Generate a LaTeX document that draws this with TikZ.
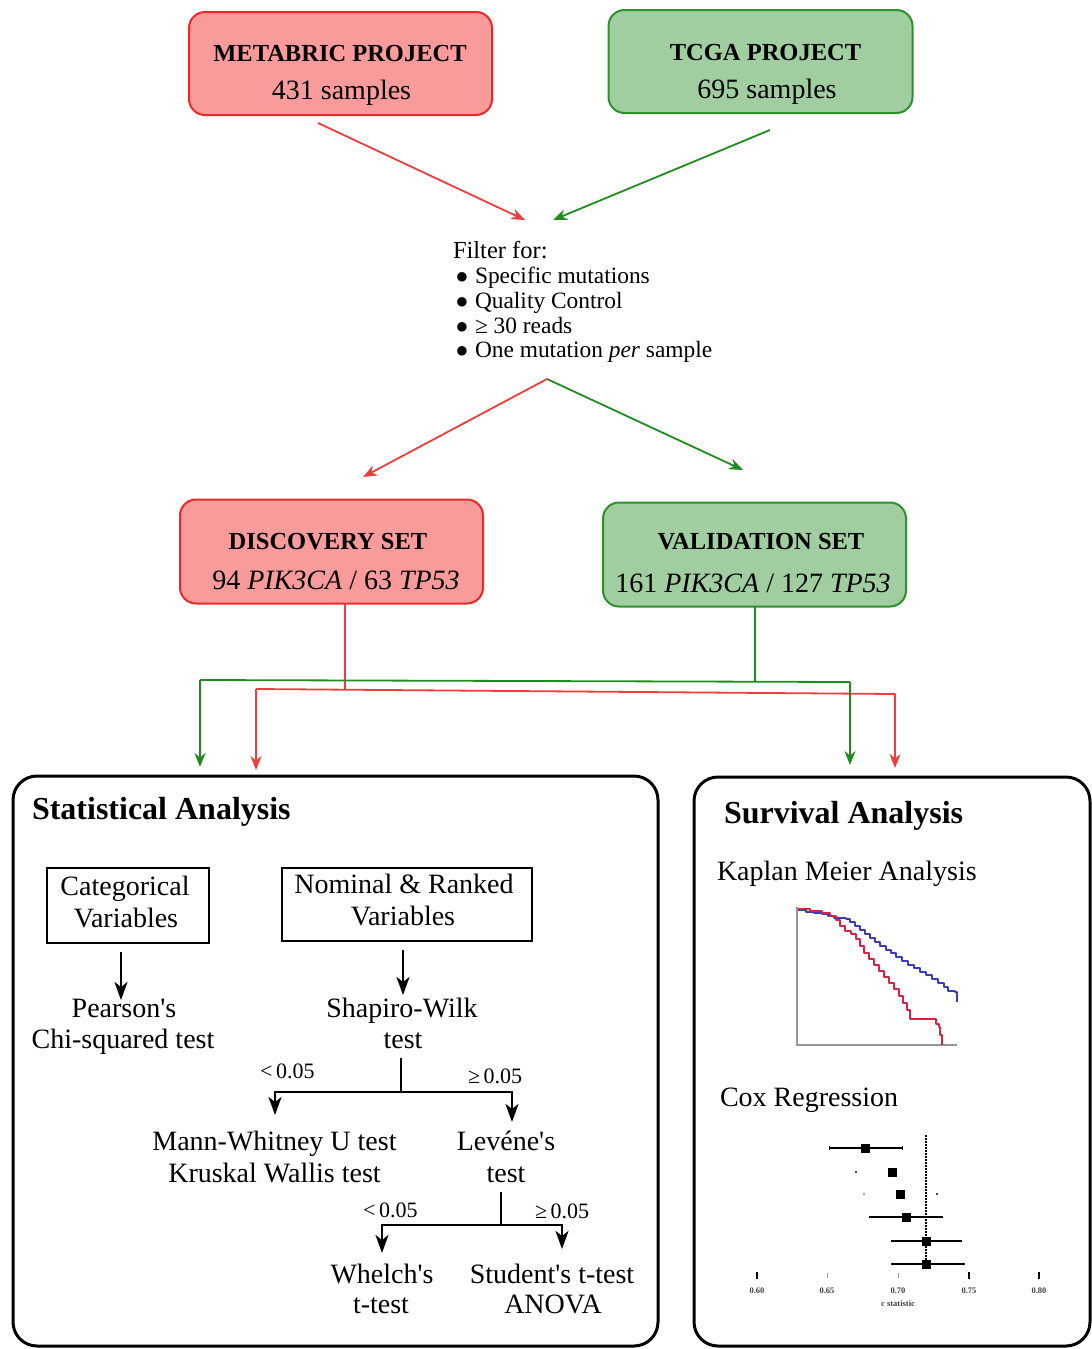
\documentclass[tikz,border=0pt]{standalone}
\usepackage{fontspec}
\setmainfont{Liberation Serif}
\newfontfamily\plainserif{Liberation Serif}
\newcommand\aps{{\plainserif\char"0027\relax}}
\newcommand\bigbul{\makebox[8pt][c]{\fontsize{22}{13}\selectfont ●}\hspace{9pt}}
\usetikzlibrary{arrows.meta,calc}
\definecolor{boxred}{RGB}{250,155,155}
\definecolor{edgered}{RGB}{238,40,40}
\definecolor{boxgreen}{RGB}{160,206,160}
\definecolor{edgegreen}{RGB}{45,145,45}
\definecolor{arrred}{RGB}{240,60,60}
\definecolor{arrgreen}{RGB}{30,140,30}
\definecolor{kmblue}{RGB}{60,60,185}
\definecolor{kmred}{RGB}{215,35,65}
\definecolor{axgray}{RGB}{150,150,150}
\begin{document}
\begin{tikzpicture}[x=1pt,y=-1pt,
  every node/.style={inner sep=0pt,outer sep=0pt},
  redbox/.style={draw=edgered,fill=boxred,line width=2pt,rounded corners=16pt},
  greenbox/.style={draw=edgegreen,fill=boxgreen,line width=2pt,rounded corners=16pt},
  btitle/.style={anchor=base,font=\fontsize{24.5}{28}\selectfont\bfseries},
  reg/.style={anchor=base,font=\fontsize{28}{32}\selectfont},
  regw/.style={anchor=base west,font=\fontsize{28}{32}\selectfont},
  head/.style={anchor=base west,font=\fontsize{32}{36}\selectfont\bfseries},
  filt/.style={anchor=base west,font=\fontsize{23.4}{25}\selectfont},
  pval/.style={anchor=base west,font=\fontsize{22}{24}\selectfont},
  carrow/.style={line width=1.8pt,-{Stealth[length=14pt,width=11pt]}},
  cline/.style={line width=1.8pt},
  tline/.style={line width=2.6pt},
  tarrow/.style={line width=2.6pt,-{Stealth[length=18pt,width=13pt,inset=5pt]}},
  varbox/.style={draw,line width=2.2pt},
  panel/.style={draw,line width=3pt,rounded corners=24pt},
  ticklbl/.style={anchor=base,font=\fontsize{8.5}{9}\selectfont\bfseries,text=black!75}
]
\useasboundingbox (0,0) rectangle (1092,1349);
\clip (0,0) rectangle (1092,1349);

% ---------- top boxes ----------
\node[redbox,minimum width=303pt,minimum height=103pt] (metabric) at (340.5,63.5) {};
\node[btitle] (metabricT) at (340,61) {METABRIC PROJECT};
\node[reg] (metabricN) at (341.5,99) {431 samples};

\node[greenbox,minimum width=304pt,minimum height=103pt] (tcga) at (760.5,61.5) {};
\node[btitle] (tcgaT) at (765.5,60) {TCGA PROJECT};
\node[reg] (tcgaN) at (767,98) {695 samples};

% ---------- filter ----------
\node[anchor=base west,font=\fontsize{24.5}{26}\selectfont] (filter) at (453,258) {Filter for:};
\node[filt] (f1) at (458,283) {\bigbul Specific mutations};
\node[filt] (f2) at (458,308) {\bigbul Quality Control};
\node[filt] (f3) at (458,333) {\bigbul ≥ 30 reads};
\node[filt] (f4) at (458,357) {\bigbul One mutation \textit{per} sample};

\coordinate (mOut) at (318,123);
\coordinate (tOut) at (770,130);
\coordinate (fIn1) at (525,220);
\coordinate (fIn2) at (553,220);
\draw[carrow,arrred] (mOut) -- (fIn1);
\draw[carrow,arrgreen] (tOut) -- (fIn2);

\coordinate (fOut) at (547,379);
\coordinate (dIn) at (363,477);
\coordinate (vIn) at (743,470);
\draw[carrow,arrred] (fOut) -- (dIn);
\draw[carrow,arrgreen] (fOut) -- (vIn);

% ---------- set boxes ----------
\node[redbox,minimum width=303pt,minimum height=104pt] (disc) at (331.5,551.5) {};
\node[btitle] (discT) at (328,549) {DISCOVERY SET};
\node[reg] (discN) at (336,589) {94 \textit{PIK3CA} / 63 \textit{TP53}};

\node[greenbox,minimum width=303pt,minimum height=104pt] (valid) at (754.5,554.5) {};
\node[btitle] (validT) at (761,549) {VALIDATION SET};
\node[reg] (validN) at (753,592) {161 \textit{PIK3CA} / 127 \textit{TP53}};

% ---------- distribution lines ----------
\coordinate (dOut) at (345,603);
\coordinate (rJ) at (345,689.7);
\coordinate (rL) at (256,689);
\coordinate (rR) at (895,694);
\coordinate (rLt) at (256,770);
\coordinate (rRt) at (895,768);
\coordinate (vOut) at (755,606);
\coordinate (gJ) at (755,681.7);
\coordinate (gL) at (200,680);
\coordinate (gR) at (850,682);
\coordinate (gLt) at (200,767);
\coordinate (gRt) at (850,765);

\draw[cline,arrred] (dOut) -- (rJ);
\draw[cline,arrred] (rL) -- (rR);
\draw[carrow,arrred] (rL) -- (rLt);
\draw[carrow,arrred] (rR) -- (rRt);
\draw[cline,arrgreen] (vOut) -- (gJ);
\draw[cline,arrgreen] (gL) -- (gR);
\draw[carrow,arrgreen] (gL) -- (gLt);
\draw[carrow,arrgreen] (gR) -- (gRt);

% ---------- panels ----------
\draw[panel] (13,776) rectangle (658,1346);
\draw[panel] (694,777) rectangle (1090,1346);

% ---------- statistical analysis ----------
\node[head] (statT) at (32,819) {Statistical Analysis};

\node[varbox,minimum width=162pt,minimum height=75pt] (cat) at (128,905.5) {};
\node[reg] (catA) at (125,895) {Categorical};
\node[reg] (catB) at (126,927) {Variables};

\node[varbox,minimum width=250pt,minimum height=73pt] (nom) at (407,904.5) {};
\node[reg] (nomA) at (404,893) {Nominal \& Ranked};
\node[reg] (nomB) at (403,925) {Variables};

\node[reg] (pearA) at (124,1017) {Pearson\aps s};
\node[reg] (pearB) at (123,1048) {Chi-squared test};
\node[reg] (shapA) at (402,1017) {Shapiro-Wilk};
\node[reg] (shapB) at (403,1048) {test};

\coordinate (catOut) at (121,952);
\coordinate (pearIn) at (121,1000);
\coordinate (nomOut) at (403,950);
\coordinate (shapIn) at (403,995);
\draw[tarrow] (catOut) -- (pearIn);
\draw[tarrow] (nomOut) -- (shapIn);

\node[reg] (mannA) at (274.5,1150) {Mann-Whitney U test};
\node[reg] (mannB) at (274.5,1182) {Kruskal Wallis test};
\node[reg] (levA) at (506,1150) {Levéne\aps s};
\node[reg] (levB) at (506,1182) {test};

\coordinate (shOut) at (401,1058);
\coordinate (shJ) at (401,1092);
\coordinate (shL) at (275,1092);
\coordinate (shR) at (512,1092);
\coordinate (mannIn) at (275,1115);
\coordinate (levIn) at (512,1122);
\draw[tline] (shOut) -- (shJ);
\draw[tline,line cap=rect] (shL) -- (shR);
\draw[tarrow] (shL) -- (mannIn);
\draw[tarrow] (shR) -- (levIn);
\node[pval] (p1) at (260,1078) {<\,0.05};
\node[pval] (p2) at (468,1083) {≥\,0.05};

\node[reg] (whA) at (382,1283) {Whelch\aps s};
\node[reg] (whB) at (381,1313) {t-test};
\node[reg] (stA) at (552,1283) {Student\aps s t-test};
\node[reg] (stB) at (553,1313) {ANOVA};

\coordinate (lvOut) at (501,1192);
\coordinate (lvJ) at (501,1225);
\coordinate (lvL) at (382,1225);
\coordinate (lvR) at (562,1225);
\coordinate (whIn) at (382,1253);
\coordinate (stIn) at (562,1249);
\draw[tline] (lvOut) -- (lvJ);
\draw[tline,line cap=rect] (lvL) -- (lvR);
\draw[tarrow] (lvL) -- (whIn);
\draw[tarrow] (lvR) -- (stIn);
\node[pval] (p3) at (363,1217) {<\,0.05};
\node[pval] (p4) at (535,1218) {≥\,0.05};

% ---------- survival analysis ----------
\node[head] (survT) at (724,823) {Survival Analysis};
\node[regw] (kmT) at (717,880) {Kaplan Meier Analysis};
\node[regw] (coxT) at (720,1106) {Cox Regression};

% KM axes
\draw[axgray,line width=2pt] (797,907) -- (797,1045) -- (957,1045);
% blue curve
\draw[kmblue,line width=1.6pt,line join=round]
  (798,910) -| (806,912) -| (814,913) -| (822,914) -| (828,916) -| (834,918)
  -| (846,919) -| (850,922) -| (855,926) -| (860,930) -| (865,934) -| (870,938)
  -| (875,942) -| (880,946) -| (886,950) -| (891,953) -| (896,957) -| (902,961)
  -| (908,965) -| (914,968) -| (920,972) -| (926,975) -| (932,979) -| (938,983)
  -| (944,987) -| (948,991) -| (955,992) -| (957,1002);
% red curve
\draw[kmred,line width=1.6pt,line join=round]
  (798,909) -| (810,911) -| (822,913) -| (830,916) -| (836,920) -| (840,926)
  -| (845,931) -| (851,934) -| (856,939) -| (860,946) -| (864,953) -| (869,959)
  -| (874,965) -| (879,971) -| (884,977) -| (889,983) -| (894,989) -| (899,996)
  -| (903,1003) -| (907,1010) -| (910,1019) -| (933,1019) -| (936,1024)
  -| (939,1027) -| (940,1035) -| (942,1045);

% forest plot
\draw[line width=1.6pt,dash pattern=on 1.6pt off 1.4pt] (926,1135) -- (926,1270);
\draw[line width=1.2pt] (829,1148) -- (902,1148);
\draw[line width=0.8pt] (829,1146) -- (829,1150) (902,1146) -- (902,1150);
\fill (860.5,1143.5) rectangle (869.5,1152.5);
\fill (856,1172) circle (1.1pt);
\fill (887.5,1167.5) rectangle (896.5,1176.5);
\fill[black!60] (864,1194) circle (1pt);
\fill (937,1194) circle (1.1pt);
\fill (895.5,1189.5) rectangle (904.5,1198.5);
\draw[line width=1.5pt] (869,1217) -- (943,1217);
\fill (901.5,1212.5) rectangle (910.5,1221.5);
\draw[line width=1.5pt] (891,1241) -- (962,1241);
\fill (921.5,1236.5) rectangle (930.5,1245.5);
\draw[line width=1.5pt] (891,1264) -- (965,1264);
\fill (921.5,1259.5) rectangle (930.5,1268.5);
% ticks
\draw[line width=1.1pt] (757,1272) -- (757,1279);
\draw[line width=0.6pt,black!40] (827,1273) -- (827,1278);
\draw[line width=0.6pt,black!40] (898,1273) -- (898,1278);
\draw[line width=1.1pt] (969,1272) -- (969,1279);
\draw[line width=1.1pt] (1039,1272) -- (1039,1279);
\node[ticklbl] (t60) at (757,1293) {0.60};
\node[ticklbl] (t65) at (827,1293) {0.65};
\node[ticklbl] (t70) at (898,1293) {0.70};
\node[ticklbl] (t75) at (969,1293) {0.75};
\node[ticklbl] (t80) at (1039,1293) {0.80};
\node[ticklbl] (cstat) at (898,1306) {c statistic};
\end{tikzpicture}
\end{document}
